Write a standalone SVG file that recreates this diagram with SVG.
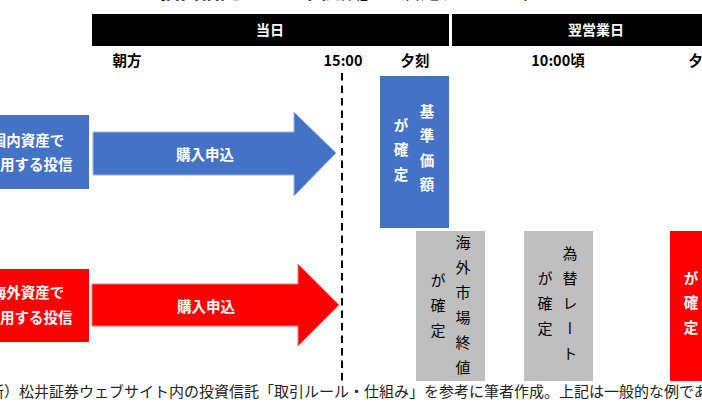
<svg xmlns="http://www.w3.org/2000/svg" width="702" height="409" viewBox="0 0 702 409">
<style>
text{font-family:"Noto Sans CJK JP","Noto Sans",sans-serif;}
.b{font-weight:bold;}
.hd{font-size:14px;font-weight:bold;fill:#fff;text-anchor:middle;dominant-baseline:central;}
.lb{font-size:14.5px;font-weight:bold;fill:#000;text-anchor:middle;dominant-baseline:central;}
.bx{font-size:14.5px;font-weight:bold;fill:#fff;text-anchor:middle;dominant-baseline:central;}
.vt{writing-mode:vertical-rl;text-anchor:start;letter-spacing:10px;}
.vw{font-size:14.5px;font-weight:bold;fill:#fff;}
.vk{font-size:15px;fill:#000;}
.blue{fill:#4472C4;}
.red{fill:#FF0000;}
.gray{fill:#BFBFBF;}
</style>
<rect width="702" height="409" fill="#fff"/>
<g id="title"><text x="160" y="-1.5" class="b" font-size="20" fill="#000">投資信託の「基準価額」の決定タイミング</text></g>
<g id="hdr-today"><rect x="92" y="14" width="357" height="32" fill="#000"/><text class="hd" x="270" y="29">当日</text></g>
<g id="hdr-next"><rect x="452" y="14" width="252" height="32" fill="#000"/><text class="hd" x="596" y="29">翌営業日</text></g>
<g id="times">
<text class="lb" x="127" y="59">朝方</text>
<text class="lb" x="343" y="59">15:00</text>
<text class="lb" x="415" y="59">夕刻</text>
<text class="lb" x="558" y="59">10:00頃</text>
<text class="lb" x="703" y="59">夕刻</text>
</g>
<g id="connectors"><line x1="342" y1="73" x2="342" y2="385" stroke="#000" stroke-width="2" stroke-dasharray="7.5 5"/></g>
<g id="domestic"><rect class="blue" x="-35" y="115" width="124" height="74"/><text class="bx" x="28" y="139">国内資産で</text><text class="bx" x="29" y="163">運用する投信</text></g>
<g id="arrow-domestic"><polygon class="blue" points="93,132 294,132 294,112 336,153 294,196 294,175 93,175" stroke="#9DB3E0" stroke-width="1"/><text class="bx" x="205" y="153">購入申込</text></g>
<g id="nav-domestic"><rect class="blue" x="380" y="76" width="69" height="152"/>
<text class="vt vw" x="427" y="104">基準価額</text>
<text class="vt vw" x="401" y="118">が確定</text></g>
<g id="foreign"><rect class="red" x="-35" y="269" width="124" height="73"/><text class="bx" x="28" y="291">海外資産で</text><text class="bx" x="29" y="316">運用する投信</text></g>
<g id="arrow-foreign"><polygon class="red" points="92,284 298,284 298,264 339,305 298,346 298,326 92,326" stroke="#FF7070" stroke-width="1"/><text class="bx" x="206" y="305">購入申込</text></g>
<g id="close-foreign"><rect class="gray" x="416" y="231" width="69" height="150"/>
<text class="vt vk" x="463" y="234.5">海外市場終値</text>
<text class="vt vk" x="438" y="272.5">が確定</text></g>
<g id="fx-rate"><rect class="gray" x="524" y="231" width="69" height="150"/>
<text class="vt vk" x="570" y="245.5">為替レート</text>
<text class="vt vk" x="545" y="270.5">が確定</text></g>
<g id="nav-foreign"><rect class="red" x="670" y="231" width="69" height="150"/>
<text class="vt vw" x="691" y="271">が確定</text></g>
<g id="source"><text x="-41" y="397" font-size="15" fill="#222">（出所）松井証券ウェブサイト内の投資信託「取引ルール・仕組み」を参考に筆者作成。上記は一般的な例であ</text></g>
</svg>
